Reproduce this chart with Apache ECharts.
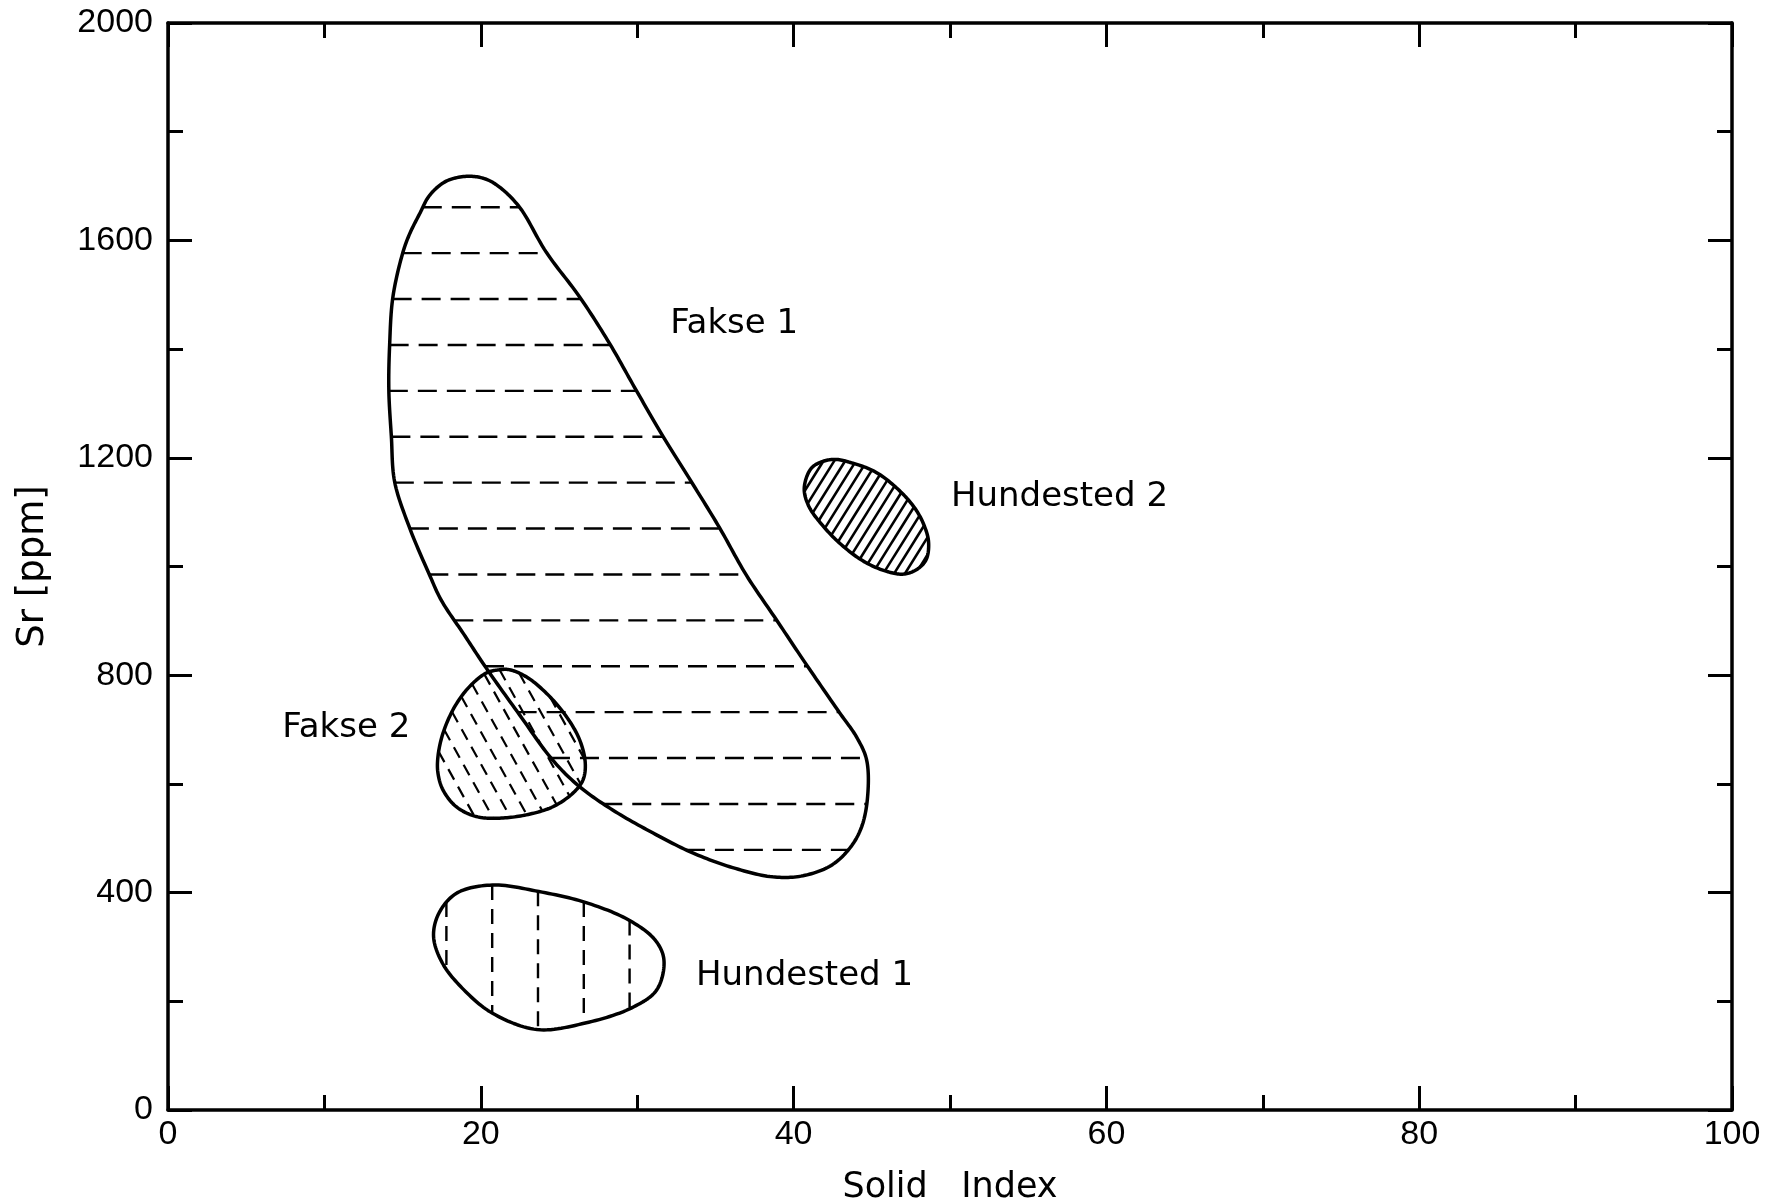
<!DOCTYPE html>
<html><head><meta charset="utf-8">
<script src="https://cdn.jsdelivr.net/npm/echarts@6/dist/echarts.min.js"></script>
<style>html,body{margin:0;padding:0;background:#fff}#c{width:1772px;height:1203px}</style>
</head><body><div id="c"></div>
<script>
// ---- data (Solid Index, Sr ppm) ----
const xTickValues = [0, 20, 40, 60, 80, 100];
const yTickValues = [0, 400, 800, 1200, 1600, 2000];
const regionNames = ['Fakse 1', 'Fakse 2', 'Hundested 1', 'Hundested 2'];
const fakse1Outline = [[19.18,1718],[17.79,1709],[16.73,1683],[16.09,1649],[15.45,1612],[15.02,1578],[14.38,1496],[14.17,1407],[14.12,1324],[14.28,1240],[14.49,1156],[15.45,1071],[16.73,984],[17.47,938],[18.9,876],[20.35,813],[22.48,727],[24.59,644],[26.31,595],[28.43,552],[30.99,510],[33.55,473],[36.10,446],[38.66,429],[40.6,431],[42.4,450],[43.6,482],[44.35,521],[44.73,576],[44.67,644],[44.03,686],[42.94,731],[40.83,819],[38.90,902],[36.98,984],[35.27,1071],[33.46,1156],[31.64,1240],[29.94,1324],[28.24,1410],[26.32,1496],[24.19,1578],[22.48,1661],[21.20,1698],[20.3,1713]];
const fakse2Outline = [[21.20,810],[20.35,804],[19.28,779],[18.33,742],[17.58,693],[17.26,650],[17.26,620],[17.58,589],[18.43,558],[19.71,540],[21.20,537],[22.91,543],[24.61,558],[25.89,583],[26.53,607],[26.68,638],[26.32,681],[25.47,724],[24.19,767],[22.91,797],[21.84,810]];
const hundested1Outline = [[16.98,319],[17.32,362],[18.46,399],[20.75,414],[23.71,402],[26.68,382],[29.43,350],[31.14,313],[31.71,276],[31.25,221],[29.65,188],[26.68,160],[23.60,148],[20.75,178],[18.92,221],[17.55,270]];
const hundested2Outline = [[40.68,1144],[41.11,1180],[41.83,1193],[42.70,1197],[43.79,1190],[45.23,1174],[46.68,1142],[47.76,1107],[48.34,1076],[48.63,1045],[48.48,1013],[47.90,995],[47.04,986],[45.95,991],[44.51,1009],[43.06,1040],[41.84,1076],[40.97,1111]];
const labelAnchors = [[36.2,1445],[11.4,702],[40.7,246],[57.0,1127]];

// ---- styles ----
const regionOutlines = [fakse1Outline, fakse2Outline, hundested1Outline, hundested2Outline];
const hatchStyles = [
  {angle: 0,   spacing: 45.9, anchor: [20, 1661], dash: [19, 10], width: 2.4},
  {angle: 61,  spacing: 15.5, anchor: [21.2, 810], dash: [12, 8], width: 2.2},
  {angle: 90,  spacing: 45.8, anchor: [17.8, 300], dash: [15, 9], width: 2.4},
  {angle: -58, spacing: 9.2,  anchor: [44.5, 1090], dash: null, width: 2.6}
];

function closedSpline(pts, seg) {
  const n = pts.length, out = [];
  const dist = (a, b) => Math.max(1e-6, Math.pow(Math.hypot(b[0] - a[0], b[1] - a[1]), 0.5));
  const lerp = (a, b, ta, tb, t) => [(tb - t) / (tb - ta) * a[0] + (t - ta) / (tb - ta) * b[0], (tb - t) / (tb - ta) * a[1] + (t - ta) / (tb - ta) * b[1]];
  for (let i = 0; i < n; i++) {
    const p0 = pts[(i - 1 + n) % n], p1 = pts[i], p2 = pts[(i + 1) % n], p3 = pts[(i + 2) % n];
    const t0 = 0, t1 = t0 + dist(p0, p1), t2 = t1 + dist(p1, p2), t3 = t2 + dist(p2, p3);
    for (let s = 0; s < seg; s++) {
      const t = t1 + (t2 - t1) * s / seg;
      const A1 = lerp(p0, p1, t0, t1, t), A2 = lerp(p1, p2, t1, t2, t), A3 = lerp(p2, p3, t2, t3, t);
      const B1 = lerp(A1, A2, t0, t2, t), B2 = lerp(A2, A3, t1, t3, t);
      out.push(lerp(B1, B2, t1, t2, t));
    }
  }
  return out;
}
function hatchSegments(poly, h, anchorPx) {
  const th = h.angle * Math.PI / 180;
  const d = [Math.cos(th), Math.sin(th)], nrm = [-Math.sin(th), Math.cos(th)];
  const proj = p => p[0] * nrm[0] + p[1] * nrm[1];
  let lo = Infinity, hi = -Infinity;
  poly.forEach(p => { const v = proj(p); lo = Math.min(lo, v); hi = Math.max(hi, v); });
  const c0 = proj(anchorPx);
  const k0 = Math.ceil((lo - c0) / h.spacing), k1 = Math.floor((hi - c0) / h.spacing);
  const segs = [];
  for (let k = k0; k <= k1; k++) {
    const c = c0 + k * h.spacing, ts = [];
    for (let i = 0; i < poly.length; i++) {
      const a = poly[i], b = poly[(i + 1) % poly.length];
      const sa = proj(a) - c, sb = proj(b) - c;
      if ((sa < 0) !== (sb < 0)) {
        const t = sa / (sa - sb);
        const x = a[0] + t * (b[0] - a[0]), y = a[1] + t * (b[1] - a[1]);
        ts.push([x * d[0] + y * d[1], x, y]);
      }
    }
    ts.sort((u, v) => u[0] - v[0]);
    for (let j = 0; j + 1 < ts.length; j += 2) segs.push([ts[j][1], ts[j][2], ts[j + 1][1], ts[j + 1][2]]);
  }
  return segs;
}

const chart = echarts.init(document.getElementById('c'), null, {renderer: 'canvas', width: 1772, height: 1203});
const AX = {color: '#000', width: 3.5};
const tickFont = {fontFamily: 'Liberation Sans', fontSize: 34, color: '#000', formatter: v => String(v)};
function frameAxis(extra) {
  return Object.assign({
    type: 'value', splitLine: {show: false},
    axisLine: {onZero: false, lineStyle: AX},
    axisTick: {inside: true, length: 24, lineStyle: {color: '#000', width: 3}},
    minorTick: {show: true, splitNumber: 2, length: 15, lineStyle: {color: '#000', width: 3}},
    axisLabel: {show: false}
  }, extra);
}
chart.setOption({
  animation: false,
  backgroundColor: '#fff',
  grid: {left: 168, right: 40, top: 23, bottom: 93, containLabel: false, outerBoundsMode: 'none'},
  xAxis: [
    frameAxis({min: xTickValues[0], max: xTickValues[xTickValues.length - 1], interval: 20, position: 'bottom',
      axisLabel: Object.assign({margin: 8}, tickFont),
      name: 'Solid   Index', nameLocation: 'middle', nameGap: 60,
      nameTextStyle: {fontFamily: 'DejaVu Sans', fontSize: 35, color: '#000'}}),
    frameAxis({min: 0, max: 100, interval: 20, position: 'top'})
  ],
  yAxis: [
    frameAxis({min: yTickValues[0], max: yTickValues[yTickValues.length - 1], interval: 400, position: 'left',
      axisLabel: Object.assign({margin: 15}, tickFont),
      name: 'Sr [ppm]', nameLocation: 'middle', nameGap: 116,
      nameTextStyle: {fontFamily: 'DejaVu Sans', fontSize: 37, color: '#000'}}),
    frameAxis({min: 0, max: 2000, interval: 400, position: 'right'})
  ],
  series: [{
    type: 'custom', name: 'regions', xAxisIndex: 0, yAxisIndex: 0,
    data: regionOutlines.map((o, i) => [o[0][0], o[0][1], i]),
    encode: {x: 0, y: 1},
    renderItem: function (params, api) {
      const idx = api.value(2);
      const pts = regionOutlines[idx].map(p => api.coord(p));
      const poly = closedSpline(pts, 14);
      const h = hatchStyles[idx];
      const segs = hatchSegments(poly, h, api.coord(h.anchor));
      const children = segs.map(s => ({
        type: 'line', shape: {x1: s[0], y1: s[1], x2: s[2], y2: s[3]},
        style: {stroke: '#000', lineWidth: h.width, lineDash: h.dash || null, fill: null}
      }));
      children.push({type: 'polygon', shape: {points: poly}, style: {fill: null, stroke: '#000', lineWidth: 3.5, lineJoin: 'round'}});
      return {type: 'group', children: children};
    }
  }, {
    type: 'custom', name: 'labels', xAxisIndex: 0, yAxisIndex: 0,
    data: labelAnchors.map((p, i) => [p[0], p[1], i]),
    encode: {x: 0, y: 1},
    renderItem: function (params, api) {
      const p = api.coord([api.value(0), api.value(1)]);
      return {type: 'text', x: p[0], y: p[1], style: {
        text: regionNames[api.value(2)], fill: '#000', font: '34px "DejaVu Sans"',
        align: 'center', verticalAlign: 'middle', textAlign: 'center', textVerticalAlign: 'middle'
      }};
    }
  }]
});
</script></body></html>
